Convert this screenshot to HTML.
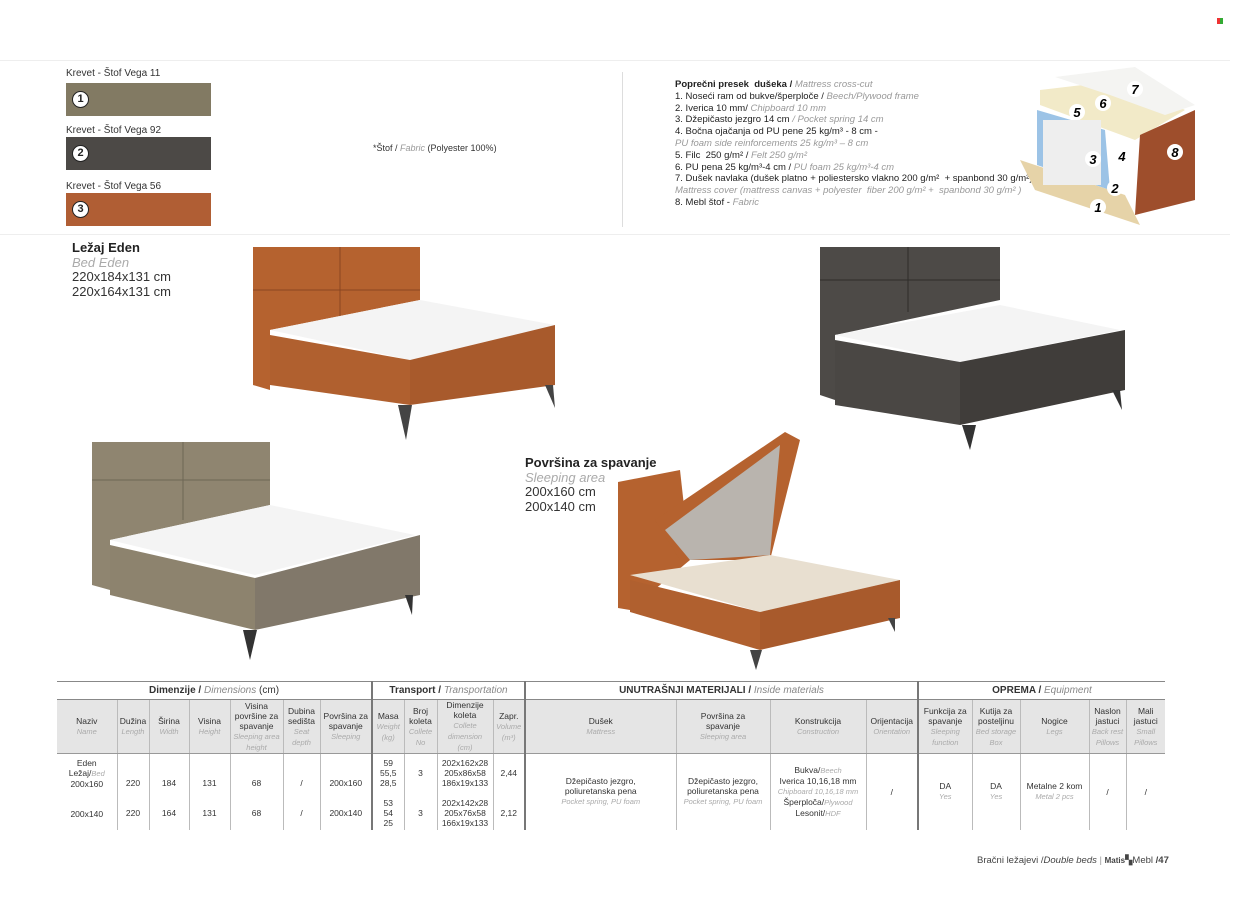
<!DOCTYPE html>
<html><head><meta charset="utf-8"><style>
*{margin:0;padding:0;box-sizing:border-box}
body{width:1250px;height:908px;background:#fff;position:relative;overflow:hidden;font-family:"Liberation Sans",sans-serif;color:#222}
.a{position:absolute}
.sw{position:absolute;left:66px;width:145px;height:33px}
.cn{position:absolute;left:6px;top:8px;width:17px;height:17px;border-radius:50%;background:#fff;border:1.5px solid #222;font-size:11px;text-align:center;line-height:14px;font-weight:bold}
.lab{position:absolute;left:66px;font-size:10px;color:#333}
.g{color:#999;font-style:italic}
.mt{font-size:9.5px;line-height:11.8px;font-family:"Liberation Sans Narrow","Liberation Sans",sans-serif}
table{position:absolute;left:57px;top:681px;border-collapse:collapse;font-size:8.5px;text-align:center;color:#333}
td{border-left:1px solid #bbb;padding:0 1px;vertical-align:middle}
.h1 td{height:18px;font-size:10px;border-top:1px solid #888;border-bottom:1px solid #888}
.h2 td{height:51px;background:#e5e5e5;border-bottom:1px solid #999;line-height:10px}
.d td{height:76px;line-height:10px}
.d td.t{vertical-align:top;padding-top:4px}
.th{border-left:2px solid #777!important}
.s{color:#aaa;font-style:italic;font-size:7.5px}
</style></head><body>
<div class="a" style="left:1217px;top:18px;width:6px;height:6px;background:linear-gradient(90deg,#e33 50%,#3a3 50%)"></div>
<div class="a" style="left:0;top:60px;width:1230px;height:1px;background:#eee"></div>
<div class="a" style="left:0;top:234px;width:1230px;height:1px;background:#eee"></div>

<div class="lab" style="top:68px">Krevet - Štof Vega 11</div>
<div class="sw" style="top:83px;background:#827a63"><div class="cn">1</div></div>
<div class="lab" style="top:125px">Krevet - Štof Vega 92</div>
<div class="sw" style="top:137px;background:#4c4946"><div class="cn">2</div></div>
<div class="lab" style="top:181px">Krevet - Štof Vega 56</div>
<div class="sw" style="top:193px;background:#b05e34"><div class="cn">3</div></div>
<div class="a" style="left:373px;top:143px;font-size:9px;color:#333">*Štof / <span class="g">Fabric</span> (Polyester 100%)</div>
<div class="a" style="left:622px;top:72px;width:1px;height:155px;background:#ddd"></div>

<div class="a mt" style="left:675px;top:79px;color:#222">
<b>Poprečni presek &nbsp;dušeka /</b> <span class="g">Mattress cross-cut</span><br>
1. Noseći ram od bukve/šperploče / <span class="g">Beech/Plywood frame</span><br>
2. Iverica 10 mm/ <span class="g">Chipboard 10 mm</span><br>
3. Džepičasto jezgro 14 cm <span class="g">/ Pocket spring 14 cm</span><br>
4. Bočna ojačanja od PU pene 25 kg/m³ - 8 cm -<br>
<span class="g">PU foam side reinforcements 25 kg/m³ – 8 cm</span><br>
5. Filc &nbsp;250 g/m² / <span class="g">Felt 250 g/m²</span><br>
6. PU pena 25 kg/m³-4 cm / <span class="g">PU foam 25 kg/m³-4 cm</span><br>
7. Dušek navlaka (dušek platno + poliestersko vlakno 200 g/m² &nbsp;+ spanbond 30 g/m²)<br>
<span class="g">Mattress cover (mattress canvas + polyester &nbsp;fiber 200 g/m² + &nbsp;spanbond 30 g/m² )</span><br>
8. Mebl štof - <span class="g">Fabric</span></div>

<svg class="a" style="left:1015px;top:65px" width="200" height="165">
<polygon points="5,95 110,130 125,160 20,125" fill="#e6d3a8"/>
<polygon points="22,45 90,65 95,125 22,100" fill="#9cc3e6"/>
<polygon points="25,25 110,15 170,45 120,75 25,40" fill="#f2eac8"/>
<polygon points="40,12 120,2 180,40 150,50 95,30" fill="#f4f4f2"/>
<polygon points="125,70 180,45 180,135 120,150" fill="#9e4e2c"/>
<rect x="28" y="55" width="58" height="65" fill="#eee"/>
<g font-size="13" font-weight="bold" font-style="italic" text-anchor="middle"><circle cx="120" cy="24" r="8" fill="#fff"/><text x="120" y="29">7</text><circle cx="88" cy="38" r="8" fill="#fff"/><text x="88" y="43">6</text><circle cx="62" cy="47" r="8" fill="#fff"/><text x="62" y="52">5</text><circle cx="78" cy="94" r="8" fill="#fff"/><text x="78" y="99">3</text><circle cx="107" cy="91" r="8" fill="#fff"/><text x="107" y="96">4</text><circle cx="160" cy="87" r="8" fill="#fff"/><text x="160" y="92">8</text><circle cx="100" cy="123" r="8" fill="#fff"/><text x="100" y="128">2</text><circle cx="83" cy="142" r="8" fill="#fff"/><text x="83" y="147">1</text></g>
</svg>

<div class="a" style="left:72px;top:241px;font-size:13px;line-height:14.5px;color:#333"><b style="color:#222">Ležaj Eden</b><br><span class="g" style="color:#aaa">Bed Eden</span><br>220x184x131 cm<br>220x164x131 cm</div>
<div class="a" style="left:525px;top:456px;font-size:13px;line-height:14.5px;color:#333"><b style="color:#222">Površina za spavanje</b><br><span class="g" style="color:#aaa">Sleeping area</span><br>200x160 cm<br>200x140 cm</div>

<svg class="a" style="left:0;top:0" width="1250" height="680">
<g>
<polygon points="253,247 420,247 420,300 270,330 270,390 253,385" fill="#b5622f"/>
<line x1="253" y1="290" x2="420" y2="290" stroke="#8a4520"/><line x1="340" y1="247" x2="340" y2="320" stroke="#8a4520"/>
<polygon points="270,330 420,300 555,325 410,360" fill="#f4f4f4"/>
<polygon points="270,335 410,360 410,405 270,385" fill="#b0602f"/>
<polygon points="410,360 555,325 555,385 410,405" fill="#a85a2c"/>
<polygon points="398,405 412,405 406,440" fill="#444"/><polygon points="545,385 553,385 555,408" fill="#444"/>
</g>
<g>
<polygon points="820,247 1000,247 1000,300 835,335 835,400 820,395" fill="#4d4a47"/>
<line x1="820" y1="280" x2="1000" y2="280" stroke="#2e2c2a"/><line x1="908" y1="247" x2="908" y2="312" stroke="#2e2c2a"/>
<polygon points="835,335 1000,305 1120,330 960,362" fill="#f4f4f4"/>
<polygon points="835,340 960,362 960,425 835,405" fill="#4a4744"/>
<polygon points="960,362 1125,330 1125,390 960,425" fill="#403d3a"/>
<polygon points="962,425 976,425 970,450" fill="#333"/><polygon points="1112,390 1120,390 1122,410" fill="#333"/>
</g>
<g>
<polygon points="92,442 270,442 270,505 110,540 110,590 92,585" fill="#8f8570"/>
<line x1="92" y1="480" x2="270" y2="480" stroke="#6e6655"/><line x1="183" y1="442" x2="183" y2="520" stroke="#6e6655"/>
<polygon points="110,540 270,505 415,535 255,575" fill="#f4f4f4"/>
<polygon points="110,545 255,578 255,630 110,595" fill="#8d836e"/>
<polygon points="255,578 420,535 420,595 255,630" fill="#81786a"/>
<polygon points="243,630 257,630 250,660" fill="#333"/><polygon points="405,595 413,595 412,615" fill="#333"/>
</g>
<g>
<polygon points="618,482 680,470 690,560 630,610 618,608" fill="#b5622f"/>
<polygon points="655,520 785,432 800,440 770,560 680,560" fill="#b5622f"/>
<polygon points="665,530 780,445 770,555 690,560" fill="#b9b4ae"/>
<polygon points="630,575 770,555 900,580 760,612" fill="#e8dfd0"/>
<polygon points="630,580 760,612 760,650 630,612" fill="#b0602f"/>
<polygon points="760,612 900,580 900,618 760,650" fill="#a85a2c"/>
<polygon points="750,650 762,650 756,670" fill="#444"/><polygon points="888,618 895,618 895,632" fill="#444"/>
</g>
</svg>

<table>
<tr class="h1"><td colspan="7" style="border-left:none"><b>Dimenzije /</b> <span class="g" style="color:#888">Dimensions</span> (cm)</td><td colspan="4" class="th"><b>Transport /</b> <span class="g" style="color:#888">Transportation</span></td><td colspan="4" class="th"><b>UNUTRAŠNJI MATERIJALI /</b> <span class="g" style="color:#888">Inside materials</span></td><td colspan="5" class="th"><b>OPREMA /</b> <span class="g" style="color:#888">Equipment</span></td></tr>
<tr class="h2">
<td style="width:60px;border-left:none">Naziv<br><span class="s">Name</span></td>
<td style="width:32px">Dužina<br><span class="s">Length</span></td>
<td style="width:40px">Širina<br><span class="s">Width</span></td>
<td style="width:41px">Visina<br><span class="s">Height</span></td>
<td style="width:53px">Visina<br>površine za<br>spavanje<br><span class="s">Sleeping area height</span></td>
<td style="width:37px">Dubina<br>sedišta<br><span class="s">Seat<br>depth</span></td>
<td style="width:52px">Površina za<br>spavanje<br><span class="s">Sleeping</span></td>
<td class="th" style="width:32px">Masa<br><span class="s">Weight</span><br><span class="s">(kg)</span></td>
<td style="width:33px">Broj<br>koleta<br><span class="s">Collete<br>No</span></td>
<td style="width:56px">Dimenzije<br>koleta<br><span class="s">Collete dimension<br>(cm)</span></td>
<td style="width:32px">Zapr.<br><span class="s">Volume<br>(m³)</span></td>
<td class="th" style="width:151px">Dušek<br><span class="s">Mattress</span></td>
<td style="width:94px">Površina za<br>spavanje<br><span class="s">Sleeping area</span></td>
<td style="width:96px">Konstrukcija<br><span class="s">Construction</span></td>
<td style="width:52px">Orijentacija<br><span class="s">Orientation</span></td>
<td class="th" style="width:54px">Funkcija za<br>spavanje<br><span class="s">Sleeping function</span></td>
<td style="width:48px">Kutija za<br>posteljinu<br><span class="s">Bed storage Box</span></td>
<td style="width:69px">Nogice<br><span class="s">Legs</span></td>
<td style="width:37px">Naslon<br>jastuci<br><span class="s">Back rest Pillows</span></td>
<td style="width:39px">Mali<br>jastuci<br><span class="s">Small Pillows</span></td>
</tr>
<tr class="d">
<td class="t" style="border-left:none">Eden<br>Ležaj/<span class="s">Bed</span><br>200x160<br><br><br>200x140</td>
<td class="t"><br><br>220<br><br><br>220</td><td class="t"><br><br>184<br><br><br>164</td><td class="t"><br><br>131<br><br><br>131</td><td class="t"><br><br>68<br><br><br>68</td><td class="t"><br><br>/<br><br><br>/</td><td class="t"><br><br>200x160<br><br><br>200x140</td>
<td class="th t">59<br>55,5<br>28,5<br><br>53<br>54<br>25</td><td class="t"><br>3<br><br><br><br>3</td>
<td class="t">202x162x28<br>205x86x58<br>186x19x133<br><br>202x142x28<br>205x76x58<br>166x19x133</td><td class="t"><br>2,44<br><br><br><br>2,12</td>
<td class="th">Džepičasto jezgro,<br>poliuretanska pena<br><span class="s">Pocket spring, PU foam</span></td>
<td>Džepičasto jezgro,<br>poliuretanska pena<br><span class="s">Pocket spring, PU foam</span></td>
<td>Bukva/<span class="s">Beech</span><br>Iverica 10,16,18 mm<br><span class="s">Chipboard 10,16,18 mm</span><br>Šperploča/<span class="s">Plywood</span><br>Lesonit/<span class="s">HDF</span></td>
<td>/</td><td class="th">DA<br><span class="s">Yes</span></td><td>DA<br><span class="s">Yes</span></td><td>Metalne 2 kom<br><span class="s">Metal 2 pcs</span></td><td>/</td><td>/</td>
</tr></table>

<div class="a" style="left:977px;top:855px;font-size:9.5px;color:#444">Bračni ležajevi /<i>Double beds</i> <span style="color:#999">|</span> <b style="font-size:8px">Matis</b>▚Mebl <b>/47</b></div>
</body></html>
